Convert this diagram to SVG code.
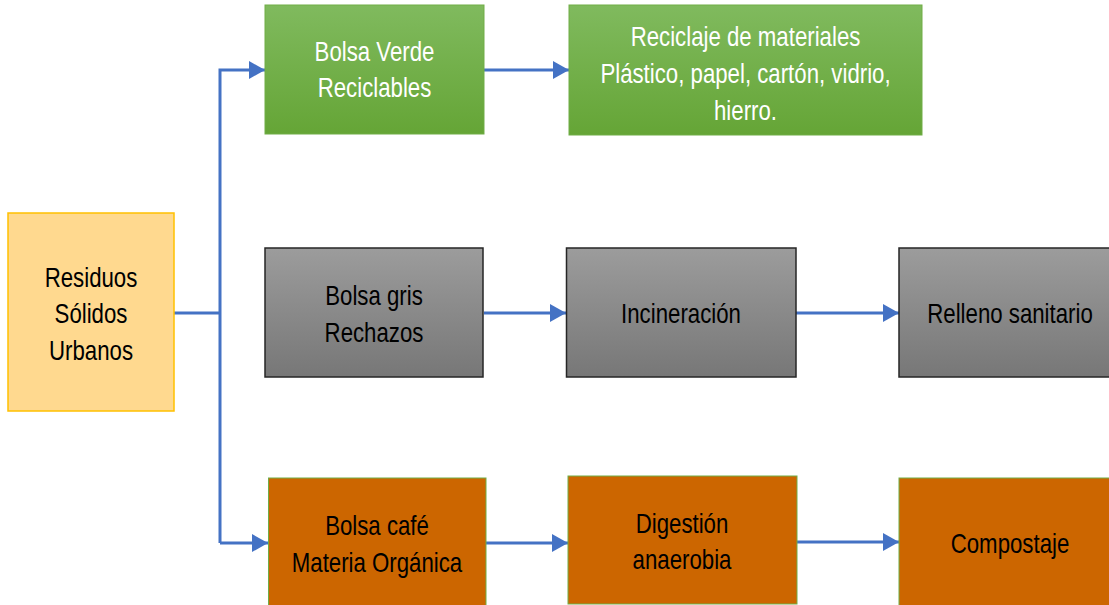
<svg xmlns="http://www.w3.org/2000/svg" width="1109" height="605" viewBox="0 0 1109 605">
<style>
  text { font-family: "Liberation Sans", Arial, sans-serif; font-size: 28.5px; text-anchor: middle; }
  .w { fill: #FFFFFF; }
  .k { fill: #000000; }
  .green { fill: url(#gGreen); stroke: #70AD47; stroke-width: 1; }
  .gray { fill: url(#gGray); stroke: #262626; stroke-width: 1.5; }
  .orange { fill: #CC6600; stroke: #70AD47; stroke-width: 1; }
  .yellow { fill: #FFD98F; stroke: #FFC000; stroke-width: 1.5; }
  .conn { fill: none; stroke: #4472C4; stroke-width: 3; }
  .arr { marker-end: url(#ah); }
</style>
<defs>
  <linearGradient id="gGreen" x1="0" y1="0" x2="0" y2="1">
    <stop offset="0" stop-color="#80BA5E"/>
    <stop offset="1" stop-color="#65A536"/>
  </linearGradient>
  <linearGradient id="gGray" x1="0" y1="0" x2="0" y2="1">
    <stop offset="0" stop-color="#9C9C9C"/>
    <stop offset="1" stop-color="#777777"/>
  </linearGradient>
  <marker id="ah" markerUnits="userSpaceOnUse" markerWidth="16" markerHeight="18" refX="16" refY="9" orient="auto">
    <path d="M0,0 L16,9 L0,18 z" fill="#4472C4"/>
  </marker>
</defs>
<rect width="1109" height="605" fill="#FFFFFF"/>

<g id="connectors">
  <path class="conn" d="M174,313 H220"/>
  <path class="conn arr" d="M220,543 V70 H265"/>
  <path class="conn arr" d="M220,543 H268"/>
  <path class="conn arr" d="M484,70 H569"/>
  <path class="conn arr" d="M484,313 H566"/>
  <path class="conn arr" d="M796,313 H899"/>
  <path class="conn arr" d="M486,543 H568"/>
  <path class="conn arr" d="M797,542 H899"/>
</g>

<g id="residuos">
  <rect class="yellow" x="8" y="213" width="166" height="198"/>
  <g transform="translate(91 0) scale(0.78 1)">
    <text class="k" x="0" y="287">Residuos</text>
    <text class="k" x="0" y="323">Sólidos</text>
    <text class="k" x="0" y="360">Urbanos</text>
  </g>
</g>

<g id="bolsa-verde">
  <rect class="green" x="265" y="5" width="219" height="129"/>
  <g transform="translate(374.5 0) scale(0.78 1)">
    <text class="w" x="0" y="61">Bolsa Verde</text>
    <text class="w" x="0" y="97">Reciclables</text>
  </g>
</g>

<g id="reciclaje">
  <rect class="green" x="569" y="5" width="353" height="130"/>
  <g transform="translate(745.5 0) scale(0.78 1)">
    <text class="w" x="0" y="46">Reciclaje de materiales</text>
    <text class="w" x="0" y="83">Plástico, papel, cartón, vidrio,</text>
    <text class="w" x="0" y="120">hierro.</text>
  </g>
</g>

<g id="bolsa-gris">
  <rect class="gray" x="265" y="248" width="218" height="129"/>
  <g transform="translate(374 0) scale(0.78 1)">
    <text class="k" x="0" y="305">Bolsa gris</text>
    <text class="k" x="0" y="342">Rechazos</text>
  </g>
</g>

<g id="incineracion">
  <rect class="gray" x="566.5" y="248" width="229.5" height="129"/>
  <g transform="translate(681 0) scale(0.78 1)">
    <text class="k" x="0" y="323">Incineración</text>
  </g>
</g>

<g id="relleno">
  <rect class="gray" x="899" y="248" width="222" height="129"/>
  <g transform="translate(1010 0) scale(0.78 1)">
    <text class="k" x="0" y="323">Relleno sanitario</text>
  </g>
</g>

<g id="bolsa-cafe">
  <rect class="orange" x="268.5" y="478" width="217.5" height="140"/>
  <g transform="translate(377 0) scale(0.78 1)">
    <text class="k" x="0" y="535">Bolsa café</text>
    <text class="k" x="0" y="572">Materia Orgánica</text>
  </g>
</g>

<g id="digestion">
  <rect class="orange" x="568" y="476" width="229" height="128"/>
  <g transform="translate(682 0) scale(0.78 1)">
    <text class="k" x="0" y="533">Digestión</text>
    <text class="k" x="0" y="569">anaerobia</text>
  </g>
</g>

<g id="compostaje">
  <rect class="orange" x="899" y="478" width="222" height="140"/>
  <g transform="translate(1010 0) scale(0.78 1)">
    <text class="k" x="0" y="553">Compostaje</text>
  </g>
</g>
</svg>
